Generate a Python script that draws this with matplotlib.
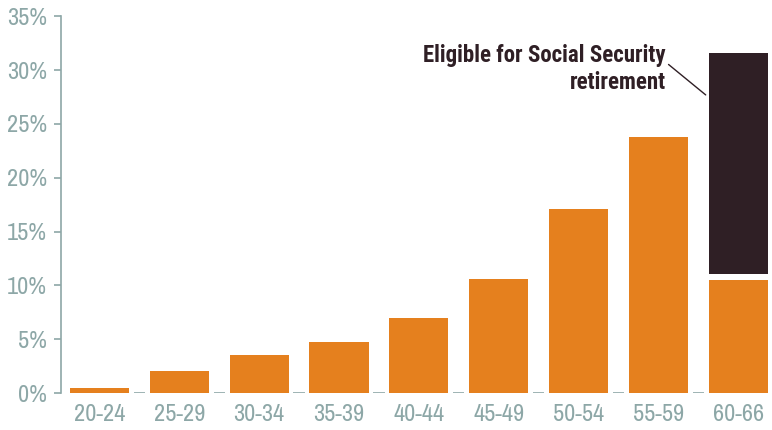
import matplotlib.pyplot as plt
import numpy as np
from matplotlib import font_manager

ages = ['20-24', '25-29', '30-34', '35-39', '40-44', '45-49', '50-54', '55-59', '60-66']
share = [0.5, 2.0, 3.5, 4.7, 7.0, 10.6, 17.1, 23.8, 10.5]
eligible_share = 20.5   # extra stacked on the 60-66 bar
eligible_gap = 0.6

ORANGE = '#e5801e'
DARK = '#2f1f25'
GREY = '#8da7a7'

names = {f.name for f in font_manager.fontManager.ttflist}


def pick(*cands):
    return [c for c in cands if c in names][:1] + ['DejaVu Sans']


plt.rcParams['font.family'] = pick('Archivo Narrow', 'Roboto Condensed', 'Barlow Condensed')
label_font = pick('Roboto Condensed', 'Barlow Condensed', 'Archivo Narrow')

fig, ax = plt.subplots(figsize=(7.72, 4.30), dpi=100)
fig.subplots_adjust(left=0.079, right=1.0, bottom=0.086, top=0.962)

x = np.arange(len(ages))
width = 0.74
ax.bar(x, share, width=width, color=ORANGE, zorder=2)
ax.bar(x[-1], eligible_share, width=width, bottom=share[-1] + eligible_gap,
       color=DARK, zorder=2)

# little baseline dashes between the bars
mids = x[:-1] + 0.5
ax.hlines([0] * len(mids), mids - 0.07, mids + 0.07, color=GREY, lw=1.2, zorder=1)

ax.set_xlim(-0.48, len(ages) - 1 + 0.42)
ax.set_ylim(0, 35)
ax.set_yticks(range(0, 36, 5))
ax.set_yticklabels([f'{v}%' for v in range(0, 36, 5)])
ax.set_xticks(x)
ax.set_xticklabels(ages)

for s in ['top', 'right', 'bottom']:
    ax.spines[s].set_visible(False)
ax.spines['left'].set_color(GREY)
ax.spines['left'].set_linewidth(1.2)
ax.tick_params(axis='y', colors=GREY, labelsize=17.5, length=5, width=1.2, pad=5)
ax.tick_params(axis='x', colors=GREY, labelsize=17.5, length=0, pad=8)

ax.annotate('Eligible for Social Security\nretirement',
            xy=(x[-1] - width / 2 - 0.04, 27.7), xytext=(x[-1] - 0.91, 30.1),
            ha='right', va='center', fontsize=16.5, fontweight='bold', color=DARK,
            family=label_font, linespacing=1.18,
            arrowprops=dict(arrowstyle='-', color=DARK, lw=1,
                            shrinkA=0, shrinkB=0, relpos=(1.0, 0.64)))

fig.savefig('out.png', dpi=100)
